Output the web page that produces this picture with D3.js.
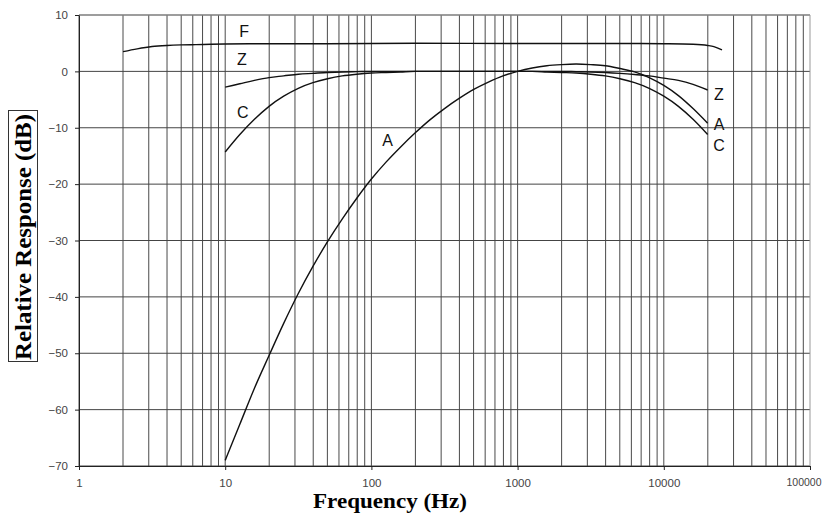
<!DOCTYPE html>
<html>
<head>
<meta charset="utf-8">
<script src="https://d3js.org/d3.v7.min.js"></script>
<style>
  html, body { margin: 0; padding: 0; background: #fff; }
  svg { display: block; }
</style>
</head>
<body>
<svg id="chart" width="825" height="514"></svg>
<script>
// ---- data ----
const xTickValues = [1, 10, 100, 1000, 10000, 100000];
const xTickLabels = ["1", "10", "100", "1000", "10000", "100000"];
const yTickValues = [10, 0, -10, -20, -30, -40, -50, -60, -70];

const fFreq = [2, 2.5, 3.16, 4, 5, 6.3, 8, 10, 20, 50, 100, 200, 1000, 5000, 10000, 15850, 19950, 22000, 25000];
const fVals = [3.5, 4.0, 4.4, 4.6, 4.7, 4.75, 4.8, 4.85, 4.9, 4.9, 4.95, 5.0, 4.95, 4.95, 4.9, 4.8, 4.6, 4.4, 3.8];

const zFreq = [10, 12.59, 15.85, 19.95, 25.12, 31.62, 39.81, 50.12, 63.1, 79.43, 100, 1995, 2512, 3162, 3981, 5012, 6310, 7943, 10000, 12590, 15850, 19950];
const zVals = [-2.8, -2.2, -1.6, -1.1, -0.8, -0.5, -0.35, -0.2, -0.1, -0.05, 0, 0, -0.05, -0.1, -0.2, -0.35, -0.55, -0.8, -1.2, -1.6, -2.3, -3.3];

const thirdOct = [10, 12.59, 15.85, 19.95, 25.12, 31.62, 39.81, 50.12, 63.1, 79.43, 100, 125.9, 158.5, 199.5, 251.2, 316.2, 398.1, 501.2, 631, 794.3, 1000, 1259, 1585, 1995, 2512, 3162, 3981, 5012, 6310, 7943, 10000, 12590, 15850, 19950];
const aVals = [-69, -62.6, -56.2, -50.4, -44.7, -39.4, -34.6, -30.2, -26.2, -22.5, -19.1, -16.1, -13.4, -10.9, -8.6, -6.6, -4.8, -3.2, -1.9, -0.8, 0, 0.6, 1.0, 1.2, 1.3, 1.2, 1.0, 0.5, -0.1, -1.1, -2.5, -4.3, -6.6, -9.2];
const cVals = [-14.3, -11.2, -8.5, -6.2, -4.4, -3.0, -2.0, -1.3, -0.8, -0.5, -0.3, -0.2, -0.1, 0, 0, 0, 0, 0, 0, 0, 0, 0, -0.1, -0.2, -0.3, -0.5, -0.8, -1.3, -2.0, -3.0, -4.4, -6.2, -8.5, -11.2];

const curveLabels = ["F", "Z", "C", "A", "Z", "A", "C"];
const labelFreq = [13.45, 13.0, 13.2, 129, 23850, 23850, 23850];
const labelDb = [7.2, 2.2, -7.2, -12.3, -4.0, -9.4, -13.1];

// ---- layout ----
const svg = d3.select("#chart");
const x = d3.scaleLog().domain([1, 100000]).range([79, 810]);
const y = d3.scaleLinear().domain([-70, 10]).range([466, 15]);

// grid
const gridX = [];
for (let d = 0; d < 5; d++) for (let k = 1; k <= 9; k++) gridX.push(k * Math.pow(10, d));
svg.append("g").selectAll("line").data(gridX).join("line")
  .attr("x1", d => x(d)).attr("x2", d => x(d))
  .attr("y1", y(10)).attr("y2", y(-70))
  .attr("stroke", "#4a4a4a").attr("stroke-width", 1);
svg.append("g").selectAll("line").data(yTickValues).join("line")
  .attr("x1", x(1)).attr("x2", x(100000))
  .attr("y1", d => y(d)).attr("y2", d => y(d))
  .attr("stroke", "#444").attr("stroke-width", 1);
// top and right border (light)
svg.append("line").attr("x1", x(1)).attr("x2", x(100000)).attr("y1", y(10)).attr("y2", y(10))
  .attr("stroke", "#999").attr("stroke-width", 1);
svg.append("line").attr("x1", x(100000)).attr("x2", x(100000)).attr("y1", y(10)).attr("y2", y(-70))
  .attr("stroke", "#999").attr("stroke-width", 1);

// axes
const xAxis = d3.axisBottom(x).tickValues(xTickValues)
  .tickFormat((d, i) => xTickLabels[i]).tickSizeInner(4).tickSizeOuter(0).tickPadding(9);
const gx = svg.append("g").attr("transform", `translate(0,${y(-70)})`).call(xAxis);
const yAxis = d3.axisLeft(y).tickValues(yTickValues).tickSizeInner(4).tickSizeOuter(0).tickPadding(7);
const gy = svg.append("g").attr("transform", `translate(${x(1)},0)`).call(yAxis);
[gx, gy].forEach(g => {
  g.selectAll("path.domain").attr("stroke", "#222");
  g.selectAll(".tick line").attr("stroke", "#222");
  g.selectAll(".tick text").attr("fill", "#444")
    .style("font-family", "Arial, 'Liberation Sans', sans-serif").style("font-size", "11.5px");
});
// last x label sits at the right edge: keep it inside the picture
gx.selectAll(".tick text").filter(d => d === 100000)
  .attr("text-anchor", "end").attr("dx", "11")
  .style("font-size", "10.5px");

// curves
const line = d3.line().x(d => x(d[0])).y(d => y(d[1])).curve(d3.curveMonotoneX);
const series = [
  d3.zip(fFreq, fVals),
  d3.zip(zFreq, zVals),
  d3.zip(thirdOct, aVals),
  d3.zip(thirdOct, cVals)
];
svg.append("g").selectAll("path").data(series).join("path")
  .attr("d", line).attr("fill", "none").attr("stroke", "#111").attr("stroke-width", 1.4);

// curve labels
svg.append("g").selectAll("text").data(curveLabels).join("text")
  .attr("x", (d, i) => x(labelFreq[i])).attr("y", (d, i) => y(labelDb[i]))
  .attr("dy", "0.36em").attr("text-anchor", "middle")
  .style("font-family", "Arial, 'Liberation Sans', sans-serif").style("font-size", "16px")
  .attr("fill", "#111").text(d => d);

// axis titles
svg.append("text").attr("x", 390).attr("y", 508).attr("text-anchor", "middle")
  .attr("textLength", 154).attr("lengthAdjust", "spacingAndGlyphs")
  .style("font-family", "'Liberation Serif', 'Times New Roman', serif").style("font-weight", "bold")
  .style("font-size", "22px").attr("fill", "#000").text("Frequency (Hz)");

svg.append("rect").attr("x", 8.5).attr("y", 110.5).attr("width", 29).attr("height", 251)
  .attr("fill", "#fff").attr("stroke", "#333").attr("stroke-width", 1);
svg.append("text").attr("transform", "translate(31,237) rotate(-90)").attr("text-anchor", "middle")
  .attr("textLength", 246).attr("lengthAdjust", "spacingAndGlyphs")
  .style("font-family", "'Liberation Serif', 'Times New Roman', serif").style("font-weight", "bold")
  .style("font-size", "23px").attr("fill", "#000").text("Relative Response (dB)");
</script>
</body>
</html>
